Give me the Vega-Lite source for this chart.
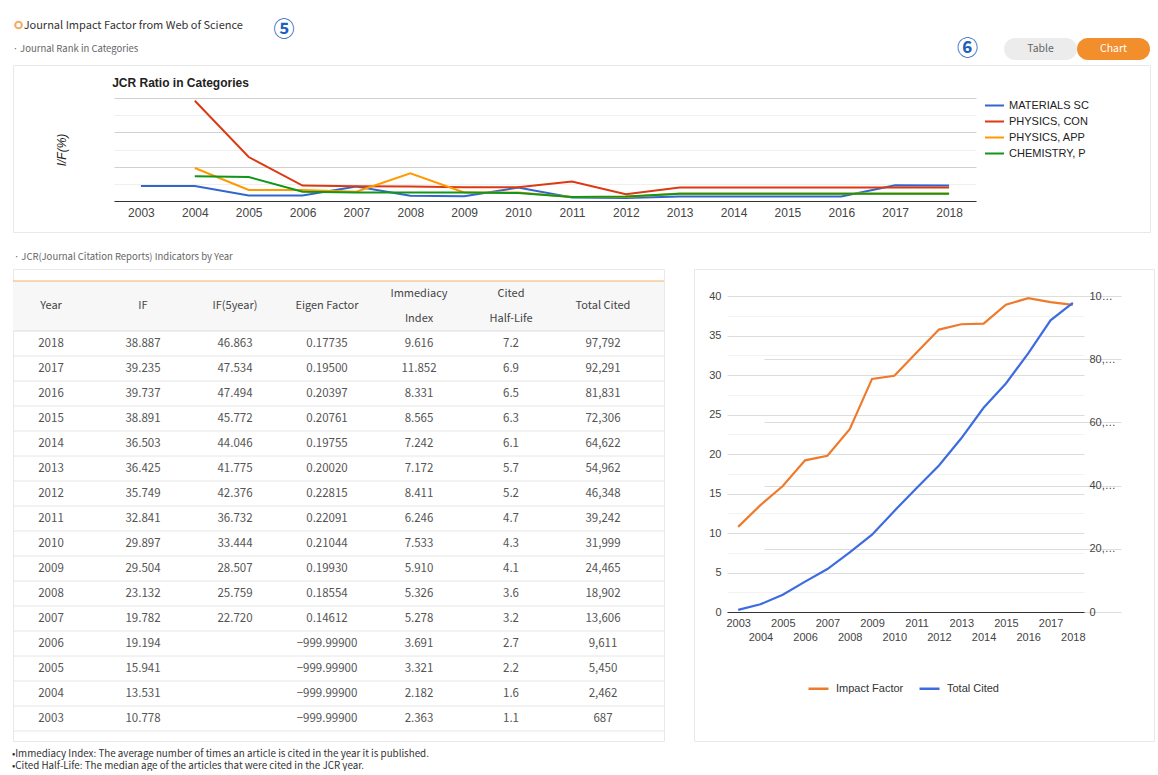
{
  "$schema": "https://vega.github.io/schema/vega-lite/v6.json",
  "background": "white",
  "padding": {"left": 10, "top": 17, "right": 0, "bottom": 0},
  "config": {
    "font": "Liberation Sans",
    "view": {"stroke": "#e6e6e6"},
    "axis": {"labelFont": "Liberation Sans", "titleFont": "Liberation Sans"},
    "legend": {"labelFont": "Liberation Sans"}
  },
  "datasets": {
    "ind": [
      {"Year": 2018, "IF": 38.887, "IF5": 46.863, "Eigen": 0.17735, "Imm": 9.616, "CHL": 7.2, "TC": 97792},
      {"Year": 2017, "IF": 39.235, "IF5": 47.534, "Eigen": 0.195, "Imm": 11.852, "CHL": 6.9, "TC": 92291},
      {"Year": 2016, "IF": 39.737, "IF5": 47.494, "Eigen": 0.20397, "Imm": 8.331, "CHL": 6.5, "TC": 81831},
      {"Year": 2015, "IF": 38.891, "IF5": 45.772, "Eigen": 0.20761, "Imm": 8.565, "CHL": 6.3, "TC": 72306},
      {"Year": 2014, "IF": 36.503, "IF5": 44.046, "Eigen": 0.19755, "Imm": 7.242, "CHL": 6.1, "TC": 64622},
      {"Year": 2013, "IF": 36.425, "IF5": 41.775, "Eigen": 0.2002, "Imm": 7.172, "CHL": 5.7, "TC": 54962},
      {"Year": 2012, "IF": 35.749, "IF5": 42.376, "Eigen": 0.22815, "Imm": 8.411, "CHL": 5.2, "TC": 46348},
      {"Year": 2011, "IF": 32.841, "IF5": 36.732, "Eigen": 0.22091, "Imm": 6.246, "CHL": 4.7, "TC": 39242},
      {"Year": 2010, "IF": 29.897, "IF5": 33.444, "Eigen": 0.21044, "Imm": 7.533, "CHL": 4.3, "TC": 31999},
      {"Year": 2009, "IF": 29.504, "IF5": 28.507, "Eigen": 0.1993, "Imm": 5.91, "CHL": 4.1, "TC": 24465},
      {"Year": 2008, "IF": 23.132, "IF5": 25.759, "Eigen": 0.18554, "Imm": 5.326, "CHL": 3.6, "TC": 18902},
      {"Year": 2007, "IF": 19.782, "IF5": 22.72, "Eigen": 0.14612, "Imm": 5.278, "CHL": 3.2, "TC": 13606},
      {"Year": 2006, "IF": 19.194, "IF5": null, "Eigen": -999.999, "Imm": 3.691, "CHL": 2.7, "TC": 9611},
      {"Year": 2005, "IF": 15.941, "IF5": null, "Eigen": -999.999, "Imm": 3.321, "CHL": 2.2, "TC": 5450},
      {"Year": 2004, "IF": 13.531, "IF5": null, "Eigen": -999.999, "Imm": 2.182, "CHL": 1.6, "TC": 2462},
      {"Year": 2003, "IF": 10.778, "IF5": null, "Eigen": -999.999, "Imm": 2.363, "CHL": 1.1, "TC": 687}
    ],
    "hdr": [
      {"col": "Year", "label": "Year"},
      {"col": "IF", "label": "IF"},
      {"col": "IF5", "label": "IF(5year)"},
      {"col": "Eigen", "label": "Eigen Factor"},
      {"col": "Imm", "label": ["Immediacy", "Index"]},
      {"col": "CHL", "label": ["Cited", "Half-Life"]},
      {"col": "TC", "label": "Total Cited"}
    ],
    "buttons": [
      {"b": "Table", "active": false},
      {"b": "Chart", "active": true}
    ],
    "jcr": [
      {"category": "MATERIALS SCIENCE, MULTIDISCIPLINARY", "year": 2003, "ratio": 4.4},
      {"category": "MATERIALS SCIENCE, MULTIDISCIPLINARY", "year": 2004, "ratio": 4.4},
      {"category": "MATERIALS SCIENCE, MULTIDISCIPLINARY", "year": 2005, "ratio": 1.6},
      {"category": "MATERIALS SCIENCE, MULTIDISCIPLINARY", "year": 2006, "ratio": 1.6},
      {"category": "MATERIALS SCIENCE, MULTIDISCIPLINARY", "year": 2007, "ratio": 4.2},
      {"category": "MATERIALS SCIENCE, MULTIDISCIPLINARY", "year": 2008, "ratio": 1.5},
      {"category": "MATERIALS SCIENCE, MULTIDISCIPLINARY", "year": 2009, "ratio": 1.4},
      {"category": "MATERIALS SCIENCE, MULTIDISCIPLINARY", "year": 2010, "ratio": 3.9},
      {"category": "MATERIALS SCIENCE, MULTIDISCIPLINARY", "year": 2011, "ratio": 1.0},
      {"category": "MATERIALS SCIENCE, MULTIDISCIPLINARY", "year": 2012, "ratio": 0.9},
      {"category": "MATERIALS SCIENCE, MULTIDISCIPLINARY", "year": 2013, "ratio": 1.3},
      {"category": "MATERIALS SCIENCE, MULTIDISCIPLINARY", "year": 2014, "ratio": 1.3},
      {"category": "MATERIALS SCIENCE, MULTIDISCIPLINARY", "year": 2015, "ratio": 1.3},
      {"category": "MATERIALS SCIENCE, MULTIDISCIPLINARY", "year": 2016, "ratio": 1.3},
      {"category": "MATERIALS SCIENCE, MULTIDISCIPLINARY", "year": 2017, "ratio": 4.6},
      {"category": "MATERIALS SCIENCE, MULTIDISCIPLINARY", "year": 2018, "ratio": 4.5},
      {"category": "PHYSICS, CONDENSED MATTER", "year": 2004, "ratio": 29.2},
      {"category": "PHYSICS, CONDENSED MATTER", "year": 2005, "ratio": 12.8},
      {"category": "PHYSICS, CONDENSED MATTER", "year": 2006, "ratio": 4.5},
      {"category": "PHYSICS, CONDENSED MATTER", "year": 2007, "ratio": 4.3},
      {"category": "PHYSICS, CONDENSED MATTER", "year": 2008, "ratio": 4.2},
      {"category": "PHYSICS, CONDENSED MATTER", "year": 2009, "ratio": 4.0},
      {"category": "PHYSICS, CONDENSED MATTER", "year": 2010, "ratio": 4.0},
      {"category": "PHYSICS, CONDENSED MATTER", "year": 2011, "ratio": 5.7},
      {"category": "PHYSICS, CONDENSED MATTER", "year": 2012, "ratio": 2.0},
      {"category": "PHYSICS, CONDENSED MATTER", "year": 2013, "ratio": 3.9},
      {"category": "PHYSICS, CONDENSED MATTER", "year": 2014, "ratio": 3.9},
      {"category": "PHYSICS, CONDENSED MATTER", "year": 2015, "ratio": 3.9},
      {"category": "PHYSICS, CONDENSED MATTER", "year": 2016, "ratio": 3.9},
      {"category": "PHYSICS, CONDENSED MATTER", "year": 2017, "ratio": 3.9},
      {"category": "PHYSICS, CONDENSED MATTER", "year": 2018, "ratio": 3.9},
      {"category": "PHYSICS, APPLIED", "year": 2004, "ratio": 9.6},
      {"category": "PHYSICS, APPLIED", "year": 2005, "ratio": 3.2},
      {"category": "PHYSICS, APPLIED", "year": 2006, "ratio": 3.2},
      {"category": "PHYSICS, APPLIED", "year": 2007, "ratio": 2.7},
      {"category": "PHYSICS, APPLIED", "year": 2008, "ratio": 8.1},
      {"category": "PHYSICS, APPLIED", "year": 2009, "ratio": 2.5},
      {"category": "PHYSICS, APPLIED", "year": 2010, "ratio": 2.5},
      {"category": "PHYSICS, APPLIED", "year": 2011, "ratio": 1.2},
      {"category": "PHYSICS, APPLIED", "year": 2012, "ratio": 1.2},
      {"category": "PHYSICS, APPLIED", "year": 2013, "ratio": 2.2},
      {"category": "PHYSICS, APPLIED", "year": 2014, "ratio": 2.2},
      {"category": "PHYSICS, APPLIED", "year": 2015, "ratio": 2.2},
      {"category": "PHYSICS, APPLIED", "year": 2016, "ratio": 2.2},
      {"category": "PHYSICS, APPLIED", "year": 2017, "ratio": 2.2},
      {"category": "PHYSICS, APPLIED", "year": 2018, "ratio": 2.2},
      {"category": "CHEMISTRY, PHYSICAL", "year": 2004, "ratio": 7.2},
      {"category": "CHEMISTRY, PHYSICAL", "year": 2005, "ratio": 7.0},
      {"category": "CHEMISTRY, PHYSICAL", "year": 2006, "ratio": 2.7},
      {"category": "CHEMISTRY, PHYSICAL", "year": 2007, "ratio": 2.5},
      {"category": "CHEMISTRY, PHYSICAL", "year": 2008, "ratio": 2.5},
      {"category": "CHEMISTRY, PHYSICAL", "year": 2009, "ratio": 2.5},
      {"category": "CHEMISTRY, PHYSICAL", "year": 2010, "ratio": 2.3},
      {"category": "CHEMISTRY, PHYSICAL", "year": 2011, "ratio": 1.2},
      {"category": "CHEMISTRY, PHYSICAL", "year": 2012, "ratio": 1.3},
      {"category": "CHEMISTRY, PHYSICAL", "year": 2013, "ratio": 2.1},
      {"category": "CHEMISTRY, PHYSICAL", "year": 2014, "ratio": 2.1},
      {"category": "CHEMISTRY, PHYSICAL", "year": 2015, "ratio": 2.1},
      {"category": "CHEMISTRY, PHYSICAL", "year": 2016, "ratio": 2.1},
      {"category": "CHEMISTRY, PHYSICAL", "year": 2017, "ratio": 2.1},
      {"category": "CHEMISTRY, PHYSICAL", "year": 2018, "ratio": 2.1}
    ]
  },
  "title": {"text": "Journal Impact Factor from Web of Science", "anchor": "start", "dx": 13, "offset": -13.5, "font": "Noto Sans CJK KR", "fontSize": 11, "fontWeight": "normal", "color": "#333333"},
  "resolve": {"scale": {"color": "independent"}, "legend": {"color": "independent"}},
  "spacing": 19,
  "vconcat": [
    {
      "title": {"text": "·  Journal Rank in Categories", "anchor": "start", "dx": 2, "offset": -36, "font": "Noto Sans CJK KR", "fontSize": 9.5, "fontWeight": "normal", "color": "#666666"},
      "vconcat": [
        {
          "width": 1137,
          "height": 167,
          "view": {"stroke": "#e8e8e8"},
          "title": {"text": "JCR Ratio in Categories", "anchor": "start", "dx": 101, "offset": -72, "font": "Liberation Sans", "fontSize": 12, "fontWeight": "bold", "color": "#222222"},
          "resolve": {"scale": {"x": "independent", "y": "independent"}},
          "layer": [
            {
              "data": {"name": "jcr"},
              "mark": {"type": "line", "strokeWidth": 2},
              "encoding": {
                "x": {"field": "year", "type": "ordinal", "scale": {"type": "point", "range": [101, 963], "padding": 0.5},
                  "axis": {"title": null, "orient": "bottom", "offset": -31, "labelAngle": 0, "ticks": false, "domainColor": "#333333", "labelFontSize": 12, "labelColor": "#444444", "labelPadding": 6, "grid": false}},
                "y": {"field": "ratio", "type": "quantitative", "scale": {"domain": [0, 30], "range": [136, 33], "nice": false},
                  "axis": {"title": "I/F(%)", "orient": "left", "offset": -101, "labels": false, "ticks": false, "domain": false, "grid": true,
                    "values": [0, 5, 10, 15, 20, 25, 30],
                    "gridColor": {"condition": {"test": "datum.value % 10 == 0", "value": "#d0d0d0"}, "value": "#f0f0f0"},
                    "titleFontStyle": "italic", "titleFontSize": 12, "titleFontWeight": "normal", "titleColor": "#222222", "titlePadding": 46}},
                "color": {"field": "category", "type": "nominal",
                  "scale": {"domain": ["MATERIALS SCIENCE, MULTIDISCIPLINARY", "PHYSICS, CONDENSED MATTER", "PHYSICS, APPLIED", "CHEMISTRY, PHYSICAL"], "range": ["#3366cc", "#dc3912", "#ff9900", "#109618"]},
                  "legend": {"title": null, "orient": "none", "legendX": 971, "legendY": 30, "symbolType": "stroke", "symbolSize": 361, "symbolStrokeWidth": 2, "labelExpr": "substring(datum.label, 0, 12)", "labelFontSize": 11, "labelColor": "#222222", "rowPadding": -3, "labelOffset": 4}}
              }
            },
            {
              "data": {"name": "buttons"},
              "mark": {"type": "rect", "cornerRadius": 11},
              "encoding": {
                "x": {"field": "b", "type": "nominal", "axis": null, "scale": {"type": "band", "domain": ["six", "Table", "Chart"], "range": [918, 1137], "paddingInner": 0, "paddingOuter": 0}},
                "y": {"datum": "btn", "type": "nominal", "axis": null, "scale": {"type": "band", "domain": ["five", "btn"], "range": [-49, -5], "paddingInner": 0, "paddingOuter": 0}},
                "color": {"condition": {"test": "datum.active", "value": "#f28e2b"}, "value": "#ececec"}
              }
            },
            {
              "data": {"name": "buttons"},
              "mark": {"type": "text", "font": "Noto Sans CJK KR", "fontSize": 10.5},
              "encoding": {
                "x": {"field": "b", "type": "nominal", "axis": null, "scale": {"type": "band", "domain": ["six", "Table", "Chart"], "range": [918, 1137], "paddingInner": 0, "paddingOuter": 0}},
                "y": {"datum": "btn", "type": "nominal", "axis": null, "scale": {"type": "band", "domain": ["five", "btn"], "range": [-49, -5], "paddingInner": 0, "paddingOuter": 0}},
                "text": {"field": "b"},
                "color": {"condition": {"test": "datum.active", "value": "#ffffff"}, "value": "#666666"}
              }
            },
            {
              "data": {"values": [{"marker": "⑥"}]},
              "mark": {"type": "text", "font": "Noto Sans CJK KR", "fontSize": 21, "fontWeight": "bold", "color": "#1f5fbf"},
              "encoding": {
                "x": {"datum": "six", "type": "nominal", "axis": null, "scale": {"type": "band", "domain": ["six", "Table", "Chart"], "range": [918, 1137], "paddingInner": 0, "paddingOuter": 0}},
                "y": {"datum": "btn", "type": "nominal", "axis": null, "scale": {"type": "band", "domain": ["five", "btn"], "range": [-49, -5], "paddingInner": 0, "paddingOuter": 0}},
                "text": {"field": "marker"}
              }
            },
            {
              "data": {"values": [{"marker": "⑤"}]},
              "mark": {"type": "text", "font": "Noto Sans CJK KR", "fontSize": 21, "fontWeight": "bold", "color": "#1f5fbf", "dy": 3},
              "encoding": {
                "x": {"datum": "five", "type": "nominal", "axis": null, "scale": {"type": "band", "domain": ["five"], "range": [260, 282], "paddingInner": 0, "paddingOuter": 0}},
                "y": {"datum": "five", "type": "nominal", "axis": null, "scale": {"type": "band", "domain": ["five", "btn"], "range": [-49, -5], "paddingInner": 0, "paddingOuter": 0}},
                "text": {"field": "marker"}
              }
            },
            {
              "data": {"values": [{"icon": "ring"}]},
              "mark": {"type": "point", "shape": "circle", "filled": false, "color": "#f08a24", "strokeWidth": 2, "size": 45},
              "encoding": {
                "x": {"field": "icon", "type": "nominal", "axis": null, "scale": {"type": "band", "domain": ["ring"], "range": [1, 10], "paddingInner": 0, "paddingOuter": 0}},
                "y": {"datum": "five", "type": "nominal", "axis": null, "scale": {"type": "band", "domain": ["five", "btn"], "range": [-51, -7], "paddingInner": 0, "paddingOuter": 0}}
              }
            }
          ]
        }
      ]
    },
    {
      "title": {"text": ["•Immediacy Index: The average number of times an article is cited in the year it is published.", "•Cited Half-Life: The median age of the articles that were cited in the JCR year."], "orient": "bottom", "anchor": "start", "offset": 7, "font": "Noto Sans CJK KR", "fontSize": 9.8, "fontWeight": "normal", "color": "#333333", "lineHeight": 12},
      "resolve": {"scale": {"color": "independent"}, "legend": {"color": "independent"}},
      "vconcat": [
        {
          "title": {"text": "·  JCR(Journal Citation Reports) Indicators by Year", "anchor": "start", "dx": 2, "offset": 7, "font": "Noto Sans CJK KR", "fontSize": 9.5, "fontWeight": "normal", "color": "#666666"},
          "spacing": 27,
          "resolve": {"scale": {"color": "independent"}, "legend": {"color": "independent"}},
          "hconcat": [
            {
              "width": 651,
              "height": 472,
              "view": {"stroke": "#e8e8e8"},
              "layer": [
                {
                  "data": {"values": [{}]},
                  "mark": {"type": "rect", "color": "#f7f7f7"},
                  "encoding": {"y": {"datum": "H1", "type": "ordinal", "axis": null, "scale": {"type": "band", "domain": ["H1", "H2", 2018, 2017, 2016, 2015, 2014, 2013, 2012, 2011, 2010, 2009, 2008, 2007, 2006, 2005, 2004, 2003], "range": [12, 462], "paddingInner": 0, "paddingOuter": 0}}}
                },
                {
                  "data": {"values": [{}]},
                  "mark": {"type": "rect", "color": "#f7f7f7"},
                  "encoding": {"y": {"datum": "H2", "type": "ordinal", "axis": null, "scale": {"type": "band", "domain": ["H1", "H2", 2018, 2017, 2016, 2015, 2014, 2013, 2012, 2011, 2010, 2009, 2008, 2007, 2006, 2005, 2004, 2003], "range": [12, 462], "paddingInner": 0, "paddingOuter": 0}}}
                },
                {
                  "data": {"name": "ind"},
                  "mark": {"type": "rule", "color": "#e6e6e6", "strokeWidth": 1},
                  "encoding": {"y": {"field": "Year", "type": "ordinal", "bandPosition": 1, "axis": null, "scale": {"type": "band", "domain": ["H1", "H2", 2018, 2017, 2016, 2015, 2014, 2013, 2012, 2011, 2010, 2009, 2008, 2007, 2006, 2005, 2004, 2003], "range": [12, 462], "paddingInner": 0, "paddingOuter": 0}}}
                },
                {
                  "data": {"values": [{}]},
                  "mark": {"type": "rule", "color": "#dddddd", "strokeWidth": 1},
                  "encoding": {"y": {"datum": "H2", "type": "ordinal", "bandPosition": 1, "axis": null, "scale": {"type": "band", "domain": ["H1", "H2", 2018, 2017, 2016, 2015, 2014, 2013, 2012, 2011, 2010, 2009, 2008, 2007, 2006, 2005, 2004, 2003], "range": [12, 462], "paddingInner": 0, "paddingOuter": 0}}}
                },
                {
                  "data": {"values": [{}]},
                  "mark": {"type": "rule", "color": "#f3b46a", "strokeWidth": 1.2},
                  "encoding": {"y": {"datum": "H1", "type": "ordinal", "bandPosition": 0, "axis": null, "scale": {"type": "band", "domain": ["H1", "H2", 2018, 2017, 2016, 2015, 2014, 2013, 2012, 2011, 2010, 2009, 2008, 2007, 2006, 2005, 2004, 2003], "range": [12, 462], "paddingInner": 0, "paddingOuter": 0}}}
                },
                {
                  "data": {"name": "hdr"},
                  "transform": [{"filter": "!isArray(datum.label)"}],
                  "mark": {"type": "text", "font": "Noto Sans CJK KR", "fontSize": 11, "color": "#444444", "baseline": "middle"},
                  "encoding": {
                    "x": {"field": "col", "type": "nominal", "axis": null, "scale": {"type": "band", "domain": ["Year", "IF", "IF5", "Eigen", "Imm", "CHL", "TC"], "range": [-8, 636], "paddingInner": 0, "paddingOuter": 0}},
                    "y": {"datum": "H2", "type": "ordinal", "bandPosition": 0, "axis": null, "scale": {"type": "band", "domain": ["H1", "H2", 2018, 2017, 2016, 2015, 2014, 2013, 2012, 2011, 2010, 2009, 2008, 2007, 2006, 2005, 2004, 2003], "range": [12, 462], "paddingInner": 0, "paddingOuter": 0}},
                    "text": {"field": "label"}
                  }
                },
                {
                  "data": {"name": "hdr"},
                  "transform": [{"filter": "isArray(datum.label)"}],
                  "mark": {"type": "text", "font": "Noto Sans CJK KR", "fontSize": 11, "color": "#444444", "lineHeight": 25, "baseline": "middle"},
                  "encoding": {
                    "x": {"field": "col", "type": "nominal", "axis": null, "scale": {"type": "band", "domain": ["Year", "IF", "IF5", "Eigen", "Imm", "CHL", "TC"], "range": [-8, 636], "paddingInner": 0, "paddingOuter": 0}},
                    "y": {"datum": "H1", "type": "ordinal", "axis": null, "scale": {"type": "band", "domain": ["H1", "H2", 2018, 2017, 2016, 2015, 2014, 2013, 2012, 2011, 2010, 2009, 2008, 2007, 2006, 2005, 2004, 2003], "range": [12, 462], "paddingInner": 0, "paddingOuter": 0}},
                    "text": {"field": "label"}
                  }
                },
                {
                  "data": {"name": "ind"},
                  "mark": {"type": "text", "font": "Noto Sans CJK KR", "fontSize": 11.5, "color": "#555555"},
                  "encoding": {
                    "x": {"datum": "Year", "type": "nominal", "axis": null, "scale": {"type": "band", "domain": ["Year", "IF", "IF5", "Eigen", "Imm", "CHL", "TC"], "range": [-8, 636], "paddingInner": 0, "paddingOuter": 0}},
                    "y": {"field": "Year", "type": "ordinal", "axis": null, "scale": {"type": "band", "domain": ["H1", "H2", 2018, 2017, 2016, 2015, 2014, 2013, 2012, 2011, 2010, 2009, 2008, 2007, 2006, 2005, 2004, 2003], "range": [12, 462], "paddingInner": 0, "paddingOuter": 0}},
                    "text": {"field": "Year", "type": "ordinal"}
                  }
                },
                {
                  "data": {"name": "ind"},
                  "mark": {"type": "text", "font": "Noto Sans CJK KR", "fontSize": 11.5, "color": "#555555"},
                  "encoding": {
                    "x": {"datum": "IF", "type": "nominal", "axis": null, "scale": {"type": "band", "domain": ["Year", "IF", "IF5", "Eigen", "Imm", "CHL", "TC"], "range": [-8, 636], "paddingInner": 0, "paddingOuter": 0}},
                    "y": {"field": "Year", "type": "ordinal", "axis": null, "scale": {"type": "band", "domain": ["H1", "H2", 2018, 2017, 2016, 2015, 2014, 2013, 2012, 2011, 2010, 2009, 2008, 2007, 2006, 2005, 2004, 2003], "range": [12, 462], "paddingInner": 0, "paddingOuter": 0}},
                    "text": {"field": "IF", "type": "quantitative", "format": ".3f"}
                  }
                },
                {
                  "data": {"name": "ind"},
                  "transform": [{"filter": "isValid(datum.IF5)"}],
                  "mark": {"type": "text", "font": "Noto Sans CJK KR", "fontSize": 11.5, "color": "#555555"},
                  "encoding": {
                    "x": {"datum": "IF5", "type": "nominal", "axis": null, "scale": {"type": "band", "domain": ["Year", "IF", "IF5", "Eigen", "Imm", "CHL", "TC"], "range": [-8, 636], "paddingInner": 0, "paddingOuter": 0}},
                    "y": {"field": "Year", "type": "ordinal", "axis": null, "scale": {"type": "band", "domain": ["H1", "H2", 2018, 2017, 2016, 2015, 2014, 2013, 2012, 2011, 2010, 2009, 2008, 2007, 2006, 2005, 2004, 2003], "range": [12, 462], "paddingInner": 0, "paddingOuter": 0}},
                    "text": {"field": "IF5", "type": "quantitative", "format": ".3f"}
                  }
                },
                {
                  "data": {"name": "ind"},
                  "mark": {"type": "text", "font": "Noto Sans CJK KR", "fontSize": 11.5, "color": "#555555"},
                  "encoding": {
                    "x": {"datum": "Eigen", "type": "nominal", "axis": null, "scale": {"type": "band", "domain": ["Year", "IF", "IF5", "Eigen", "Imm", "CHL", "TC"], "range": [-8, 636], "paddingInner": 0, "paddingOuter": 0}},
                    "y": {"field": "Year", "type": "ordinal", "axis": null, "scale": {"type": "band", "domain": ["H1", "H2", 2018, 2017, 2016, 2015, 2014, 2013, 2012, 2011, 2010, 2009, 2008, 2007, 2006, 2005, 2004, 2003], "range": [12, 462], "paddingInner": 0, "paddingOuter": 0}},
                    "text": {"field": "Eigen", "type": "quantitative", "format": ".5f"}
                  }
                },
                {
                  "data": {"name": "ind"},
                  "mark": {"type": "text", "font": "Noto Sans CJK KR", "fontSize": 11.5, "color": "#555555"},
                  "encoding": {
                    "x": {"datum": "Imm", "type": "nominal", "axis": null, "scale": {"type": "band", "domain": ["Year", "IF", "IF5", "Eigen", "Imm", "CHL", "TC"], "range": [-8, 636], "paddingInner": 0, "paddingOuter": 0}},
                    "y": {"field": "Year", "type": "ordinal", "axis": null, "scale": {"type": "band", "domain": ["H1", "H2", 2018, 2017, 2016, 2015, 2014, 2013, 2012, 2011, 2010, 2009, 2008, 2007, 2006, 2005, 2004, 2003], "range": [12, 462], "paddingInner": 0, "paddingOuter": 0}},
                    "text": {"field": "Imm", "type": "quantitative", "format": ".3f"}
                  }
                },
                {
                  "data": {"name": "ind"},
                  "mark": {"type": "text", "font": "Noto Sans CJK KR", "fontSize": 11.5, "color": "#555555"},
                  "encoding": {
                    "x": {"datum": "CHL", "type": "nominal", "axis": null, "scale": {"type": "band", "domain": ["Year", "IF", "IF5", "Eigen", "Imm", "CHL", "TC"], "range": [-8, 636], "paddingInner": 0, "paddingOuter": 0}},
                    "y": {"field": "Year", "type": "ordinal", "axis": null, "scale": {"type": "band", "domain": ["H1", "H2", 2018, 2017, 2016, 2015, 2014, 2013, 2012, 2011, 2010, 2009, 2008, 2007, 2006, 2005, 2004, 2003], "range": [12, 462], "paddingInner": 0, "paddingOuter": 0}},
                    "text": {"field": "CHL", "type": "quantitative", "format": ".1f"}
                  }
                },
                {
                  "data": {"name": "ind"},
                  "mark": {"type": "text", "font": "Noto Sans CJK KR", "fontSize": 11.5, "color": "#555555"},
                  "encoding": {
                    "x": {"datum": "TC", "type": "nominal", "axis": null, "scale": {"type": "band", "domain": ["Year", "IF", "IF5", "Eigen", "Imm", "CHL", "TC"], "range": [-8, 636], "paddingInner": 0, "paddingOuter": 0}},
                    "y": {"field": "Year", "type": "ordinal", "axis": null, "scale": {"type": "band", "domain": ["H1", "H2", 2018, 2017, 2016, 2015, 2014, 2013, 2012, 2011, 2010, 2009, 2008, 2007, 2006, 2005, 2004, 2003], "range": [12, 462], "paddingInner": 0, "paddingOuter": 0}},
                    "text": {"field": "TC", "type": "quantitative", "format": ",d"}
                  }
                }
              ]
            },
            {
              "width": 460,
              "height": 472,
              "view": {"stroke": "#e8e8e8"},
              "data": {"name": "ind"},
              "encoding": {
                "x": {"field": "Year", "type": "ordinal", "scale": {"type": "point", "range": [33, 390], "padding": 0.5},
                  "axis": {"title": null, "orient": "bottom", "offset": -129, "labelAngle": 0, "ticks": false, "domainColor": "#333333", "labelFontSize": 11, "labelColor": "#444444", "labelPadding": 5, "labelOverlap": false, "labelLineHeight": 14, "grid": false,
                    "labelExpr": "datum.value % 2 == 0 ? ['', datum.label] : datum.label"}}
              },
              "layer": [
                {
                  "mark": {"type": "line", "strokeWidth": 2.2},
                  "encoding": {
                    "y": {"field": "IF", "type": "quantitative", "scale": {"domain": [0, 40], "range": [343, 27], "nice": false},
                      "axis": {"title": null, "orient": "left", "offset": -33, "ticks": false, "domain": false, "grid": true,
                        "values": [0, 2.5, 5, 7.5, 10, 12.5, 15, 17.5, 20, 22.5, 25, 27.5, 30, 32.5, 35, 37.5, 40],
                        "labelExpr": "datum.value % 5 == 0 ? datum.label : ''",
                        "gridColor": {"condition": {"test": "datum.value % 5 == 0", "value": "#dddddd"}, "value": "#f2f2f2"},
                        "labelFontSize": 11, "labelColor": "#444444", "labelPadding": 6}},
                    "color": {"datum": "Impact Factor", "type": "nominal",
                      "scale": {"domain": ["Impact Factor", "Total Cited"], "range": ["#ee7b2c", "#3d6be0"]},
                      "legend": {"title": null, "orient": "none", "legendX": 113, "legendY": 408, "direction": "horizontal", "symbolType": "stroke", "symbolSize": 400, "symbolStrokeWidth": 2.5, "labelFontSize": 11, "labelColor": "#333333", "columnPadding": 10, "labelOffset": 6}}
                  }
                },
                {
                  "mark": {"type": "line", "strokeWidth": 2.2},
                  "encoding": {
                    "y": {"field": "TC", "type": "quantitative", "scale": {"domain": [0, 100000], "range": [343, 27], "nice": false},
                      "axis": {"title": null, "orient": "right", "offset": -70, "ticks": false, "domain": false, "grid": true,
                        "values": [0, 20000, 40000, 60000, 80000, 100000], "format": ",d", "labelLimit": 27,
                        "gridColor": "#dddddd", "labelFontSize": 11, "labelColor": "#444444", "labelPadding": 5}},
                    "color": {"datum": "Total Cited", "type": "nominal"}
                  }
                }
              ],
              "resolve": {"scale": {"y": "independent"}}
            }
          ]
        }
      ]
    }
  ]
}
